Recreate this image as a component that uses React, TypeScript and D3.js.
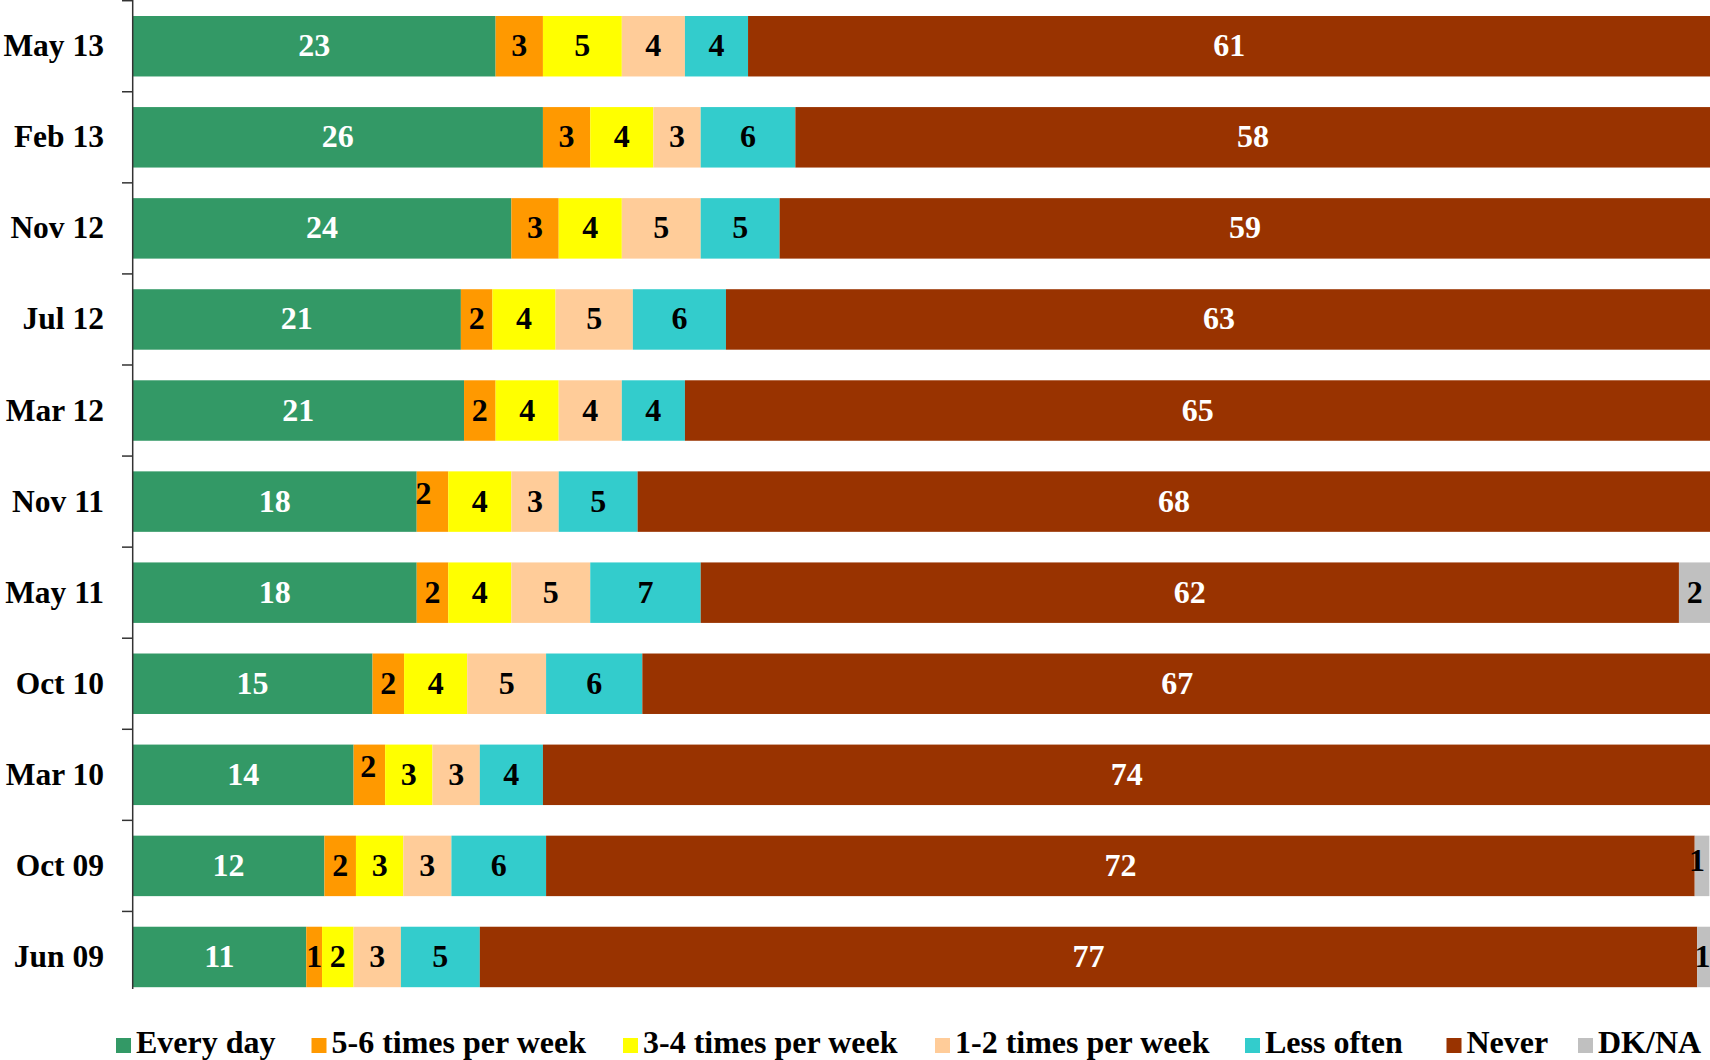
import React from "react";
import * as d3 from "d3";

const categories = ["May 13", "Feb 13", "Nov 12", "Jul 12", "Mar 12", "Nov 11", "May 11", "Oct 10", "Mar 10", "Oct 09", "Jun 09"];

const seriesNames = ["Every day", "5-6 times per week", "3-4 times per week", "1-2 times per week", "Less often", "Never", "DK/NA"];

const everyDay = [23, 26, 24, 20.8, 21, 18, 18, 15.2, 14, 12.15, 11];
const fiveSix = [3, 3, 3, 2, 2, 2, 2, 2, 2, 2, 1];
const threeFour = [5, 4, 4, 4, 4, 4, 4, 4, 3, 3, 2];
const oneTwo = [4, 3, 5, 4.9, 4, 3, 5, 5, 3, 3.05, 3];
const lessOften = [4, 6, 5, 5.9, 4, 5, 7, 6.1, 4, 6, 5];
const never = [61, 58, 59, 63, 65, 68, 62, 67.8, 74, 72.8, 77.15];
const dkna = [0, 0, 0, 0, 0, 0, 2, 0, 0, 0.93, 1];

// numbers as printed on the Never segments
const neverPrinted = [61, 58, 59, 63, 65, 68, 62, 67, 74, 72, 77];

const colors = ["#339966", "#FF9900", "#FFFF00", "#FFCC99", "#33CCCC", "#993300", "#C0C0C0"];
const labelColors = ["#FFFFFF", "#000000", "#000000", "#000000", "#000000", "#FFFFFF", "#000000"];

const W = 1710;
const H = 1060;
const FONT = "'Liberation Serif', 'Times New Roman', serif";

// small label nudges seen in the original (row-series): [dx, dy]
const nudges: Record<string, [number, number]> = {
  "5-1": [-9, -8],
  "8-1": [-1, -8],
  "9-6": [-5, -5],
  "10-6": [-2, 0],
};

const legendX = [116, 311.5, 623, 935, 1245, 1446.5, 1578];

export default function App() {
  const seriesValues = [everyDay, fiveSix, threeFour, oneTwo, lessOften, never, dkna];

  const x = d3.scaleLinear().domain([0, 100]).range([132.7, 1710.5]);
  const y = d3
    .scaleBand<string>()
    .domain(categories)
    .range([0.7, 1002.5])
    .paddingInner(0.336)
    .paddingOuter(0.168);

  const rows = categories.map((c, i) => {
    const obj: Record<string, number | string> = { cat: c };
    seriesNames.forEach((s, k) => (obj[s] = seriesValues[k][i]));
    return obj;
  });
  const stack = d3.stack<Record<string, number | string>>().keys(seriesNames);
  const stacked = stack(rows as any);

  const step = y.step();
  const tickYs = d3.range(0, categories.length).map((k) => 0.7 + step * k);

  return (
    <svg
      width={W}
      height={H}
      style={{ position: "absolute", left: 0, top: 0, background: "#fff", overflow: "hidden" }}
      fontFamily={FONT}
    >
      <defs>
        <clipPath id="plotclip">
          <rect x={0} y={0} width={W} height={H} />
        </clipPath>
      </defs>
      <rect x={0} y={0} width={W} height={H} fill="#fff" />
      <g clipPath="url(#plotclip)">
        {stacked.map((layer, k) => (
          <g key={layer.key}>
            {layer.map((d, i) => {
              const v = seriesValues[k][i];
              if (!v) return null;
              const x0 = x(d[0]);
              const x1 = x(d[1]);
              const yy = y(categories[i]) as number;
              const bw = y.bandwidth();
              const nd = nudges[`${i}-${k}`] || [0, 0];
              const label = k === 5 ? neverPrinted[i] : Math.round(v);
              const cx = (x0 + Math.min(x1, W + 2)) / 2;
              return (
                <g key={i}>
                  <rect x={x0} y={yy} width={x1 - x0} height={bw} fill={colors[k]} />
                  <text
                    x={cx + nd[0]}
                    y={yy + bw / 2 + 10 + nd[1]}
                    textAnchor="middle"
                    fontSize={32}
                    fontWeight="bold"
                    fill={labelColors[k]}
                  >
                    {label}
                  </text>
                </g>
              );
            })}
          </g>
        ))}
      </g>
      {/* axis */}
      <line x1={132.7} x2={132.7} y1={0} y2={989} stroke="#333" strokeWidth={1.5} />
      {tickYs.map((t, i) => (
        <line key={i} x1={122} x2={132.7} y1={t} y2={t} stroke="#333" strokeWidth={1.5} />
      ))}
      {categories.map((c) => (
        <text
          key={c}
          x={104}
          y={(y(c) as number) + y.bandwidth() / 2 + 10}
          textAnchor="end"
          fontSize={31.5}
          fontWeight="bold"
          fill="#000"
        >
          {c}
        </text>
      ))}
      {/* legend */}
      {seriesNames.map((s, k) => (
        <g key={s}>
          <rect x={legendX[k]} y={1038} width={15} height={15} fill={colors[k]} />
          <text x={legendX[k] + 20} y={1053} fontSize={32} fontWeight="bold" fill="#000">
            {s}
          </text>
        </g>
      ))}
    </svg>
  );
}
